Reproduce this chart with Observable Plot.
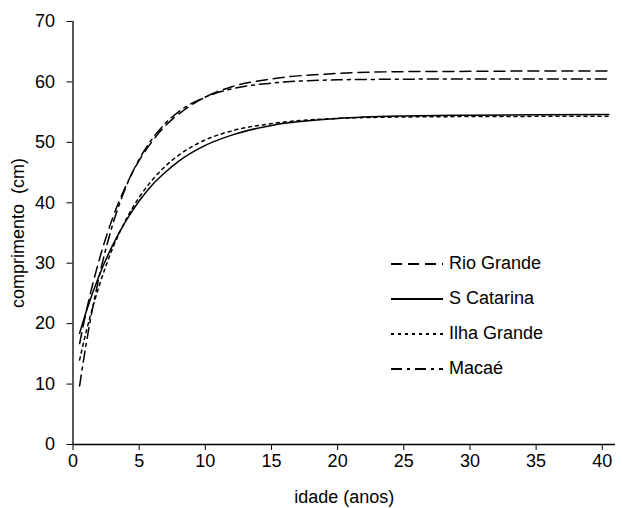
<!DOCTYPE html>
<html>
<head>
<meta charset="utf-8">
<script src="https://cdn.jsdelivr.net/npm/d3@7"></script>
<script src="https://cdn.jsdelivr.net/npm/@observablehq/plot@0.6"></script>
<style>
  html, body { margin: 0; padding: 0; background: #fff; }
  #wrap { position: relative; width: 622px; height: 508px; font-family: "Liberation Sans", Arial, sans-serif; }
  #legend { position: absolute; left: 391px; top: 246px; }
  .row { display: flex; align-items: center; height: 35px; font-size: 18px; color: #000; }
  .row svg { margin-right: 6px; }
</style>
</head>
<body>
<div id="wrap"></div>
<script>
// Age (years) and length (cm)
const ages = [0.5, 1, 2, 3, 4, 5, 6, 7, 8, 10, 12, 15, 20, 25, 30, 35, 40.5];
const rioGrande  = [16.7, 22.0, 30.7, 37.5, 42.8, 47.0, 50.2, 52.8, 54.7, 57.5, 59.2, 60.5, 61.4, 61.7, 61.75, 61.8, 61.8];
const sCatarina  = [18.4, 22.0, 28.1, 33.0, 37.0, 40.3, 43.0, 45.1, 46.9, 49.5, 51.2, 52.8, 53.95, 54.37, 54.5, 54.57, 54.6];
const ilhaGrande = [14.0, 18.7, 26.4, 32.5, 37.2, 40.9, 43.8, 46.1, 47.9, 50.4, 51.9, 53.1, 53.96, 54.2, 54.27, 54.3, 54.3];
const macae      = [9.7, 16.7, 28.0, 36.4, 42.6, 47.2, 50.6, 53.2, 55.1, 57.5, 58.85, 59.8, 60.35, 60.45, 60.5, 60.5, 60.5];

const seriesNames = ["Rio Grande", "S Catarina", "Ilha Grande", "Macaé"];
const seriesValues = [rioGrande, sCatarina, ilhaGrande, macae];
const dashes = ["11,6", null, "3,4", "11,5,3,5"];

const xTicks = [0, 5, 10, 15, 20, 25, 30, 35, 40];
const yTicks = [0, 10, 20, 30, 40, 50, 60, 70];

const lineMarks = seriesValues.map((vals, i) =>
  Plot.line(ages.map((a, j) => ({age: a, len: vals[j]})), {
    x: "age", y: "len", stroke: "#000", strokeWidth: 1.5,
    strokeDasharray: dashes[i] || undefined, curve: "monotone-x"
  })
);

const chart = Plot.plot({
  width: 622, height: 508,
  marginLeft: 72.5, marginRight: 7, marginTop: 21, marginBottom: 64,
  style: { fontFamily: "'Liberation Sans', Arial, sans-serif", fontSize: "18px", color: "#000", background: "#fff", overflow: "visible" },
  x: { domain: [0, 41] },
  y: { domain: [0, 70] },
  marks: [
    Plot.axisX({ ticks: xTicks, tickSize: 6, tickPadding: 4, tickFormat: d => String(d),
      label: "idade (anos)", labelAnchor: "center", labelArrow: "none", labelOffset: 58 }),
    Plot.axisY({ ticks: yTicks, tickSize: 6, tickPadding: 12, tickFormat: d => String(d),
      label: "comprimento  (cm)", labelAnchor: "center", labelArrow: "none", labelOffset: 62 }),
    Plot.ruleX([0], { stroke: "#000", strokeWidth: 1.3 }),
    Plot.ruleY([0], { stroke: "#000", strokeWidth: 1.3, x1: 0, x2: 41 }),
    ...lineMarks
  ]
});
chart.querySelectorAll("text").forEach(t => { t.setAttribute("xml:space", "preserve"); t.style.whiteSpace = "pre"; });
document.getElementById("wrap").appendChild(chart);

// Legend
const legend = document.createElement("div");
legend.id = "legend";
seriesNames.forEach((name, i) => {
  const row = document.createElement("div");
  row.className = "row";
  const ns = "http://www.w3.org/2000/svg";
  const svg = document.createElementNS(ns, "svg");
  svg.setAttribute("width", 52); svg.setAttribute("height", 10);
  const ln = document.createElementNS(ns, "line");
  ln.setAttribute("x1", 0); ln.setAttribute("x2", 52);
  ln.setAttribute("y1", 5); ln.setAttribute("y2", 5);
  ln.setAttribute("stroke", "#000"); ln.setAttribute("stroke-width", 2);
  if (dashes[i]) ln.setAttribute("stroke-dasharray", dashes[i]);
  svg.appendChild(ln);
  row.appendChild(svg);
  const t = document.createElement("span");
  t.textContent = name;
  row.appendChild(t);
  legend.appendChild(row);
});
document.getElementById("wrap").appendChild(legend);
</script>
</body>
</html>
